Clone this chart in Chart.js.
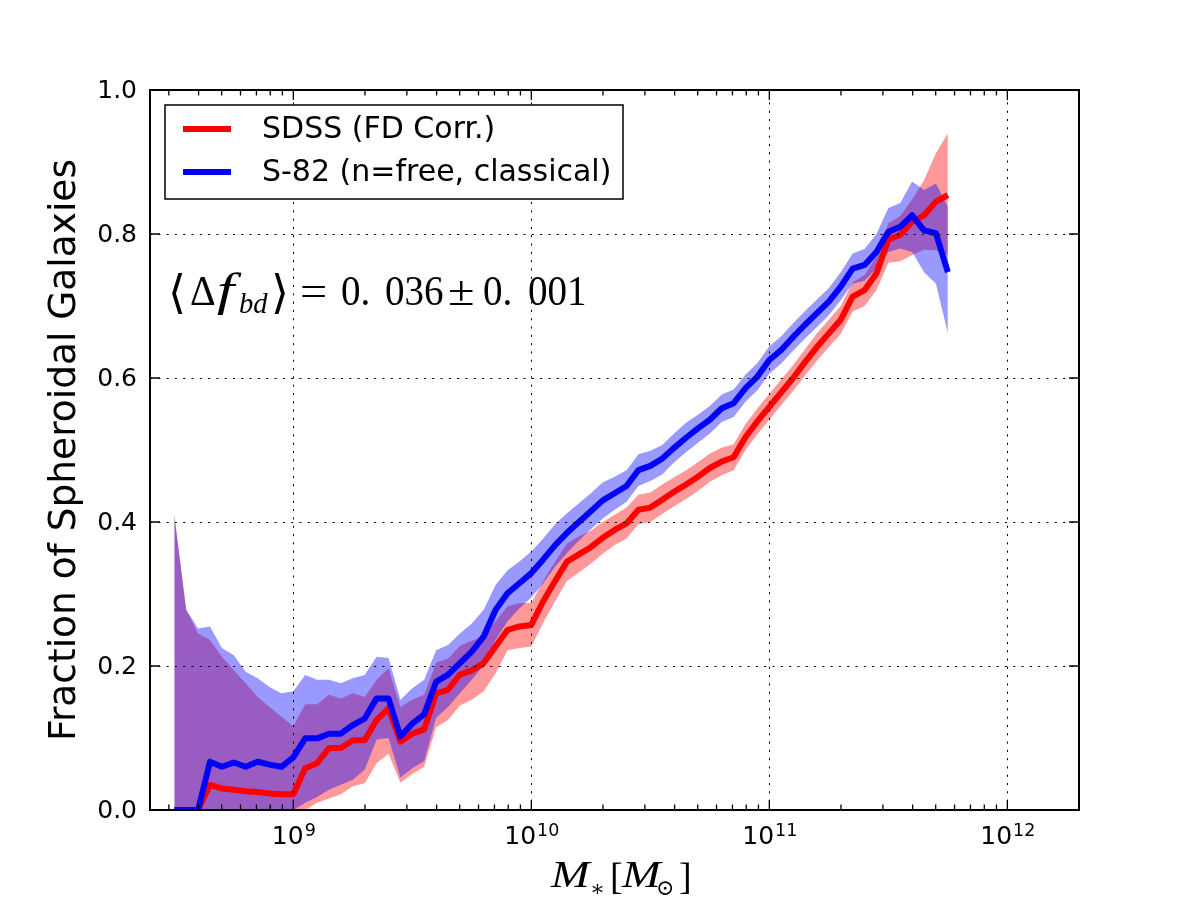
<!DOCTYPE html>
<html><head><meta charset="utf-8">
<script src="https://cdn.jsdelivr.net/npm/chart.js@4.4.1/dist/chart.umd.min.js"></script>
<style>html,body{margin:0;padding:0;background:#fff}canvas{display:block}</style>
</head><body>
<canvas id="c" width="1200" height="900"></canvas>
<script>
// log10 of stellar mass (bin centres)
const logMass = [8.50,8.55,8.60,8.65,8.70,8.75,8.80,8.85,8.90,8.95,
  9.00,9.05,9.10,9.15,9.20,9.25,9.30,9.35,9.40,9.45,
  9.50,9.55,9.60,9.65,9.70,9.75,9.80,9.85,9.90,9.95,
  10.00,10.05,10.10,10.15,10.20,10.25,10.30,10.35,10.40,10.45,
  10.50,10.55,10.60,10.65,10.70,10.75,10.80,10.85,10.90,10.95,
  11.00,11.05,11.10,11.15,11.20,11.25,11.30,11.35,11.40,11.45,
  11.50,11.55,11.60,11.65,11.70,11.75];

const sdssFrac = [0,0,0,0.035,0.030,0.028,0.026,0.025,0.023,0.022,
  0.022,0.058,0.065,0.086,0.086,0.097,0.097,0.125,0.141,0.095,
  0.106,0.112,0.162,0.167,0.188,0.194,0.204,0.227,0.250,0.255,
  0.257,0.290,0.318,0.345,0.355,0.365,0.378,0.389,0.398,0.417,
  0.420,0.431,0.442,0.452,0.463,0.475,0.484,0.490,0.518,0.540,
  0.560,0.580,0.600,0.622,0.643,0.662,0.681,0.713,0.722,0.745,
  0.792,0.799,0.817,0.826,0.845,0.854];
const sdssLow = [0,0,0,0,0,0,0,0,0,0,
  0,0,0.010,0.016,0.022,0.033,0.037,0.065,0.078,0.038,
  0.050,0.060,0.115,0.125,0.145,0.153,0.165,0.190,0.222,0.225,
  0.227,0.260,0.290,0.318,0.330,0.342,0.356,0.368,0.377,0.397,
  0.400,0.411,0.422,0.432,0.443,0.456,0.465,0.472,0.500,0.522,
  0.542,0.562,0.582,0.603,0.624,0.643,0.661,0.692,0.700,0.722,
  0.760,0.762,0.771,0.778,0.777,0.770];
const sdssHigh = [0.410,0.278,0.245,0.236,0.213,0.194,0.176,0.157,0.143,0.130,
  0.116,0.147,0.147,0.160,0.155,0.162,0.157,0.181,0.197,0.143,
  0.153,0.160,0.205,0.210,0.228,0.235,0.242,0.262,0.283,0.287,
  0.288,0.318,0.345,0.370,0.380,0.388,0.400,0.410,0.420,0.438,
  0.441,0.452,0.462,0.472,0.483,0.495,0.503,0.508,0.536,0.558,
  0.578,0.598,0.618,0.640,0.662,0.681,0.700,0.733,0.743,0.768,
  0.815,0.825,0.848,0.875,0.912,0.940];

const s82Frac = [0,0,0,0.067,0.060,0.066,0.060,0.067,0.063,0.060,
  0.073,0.0995,0.0995,0.106,0.106,0.118,0.127,0.155,0.155,0.102,
  0.120,0.133,0.178,0.188,0.204,0.220,0.241,0.278,0.301,0.315,
  0.329,0.348,0.368,0.385,0.400,0.415,0.430,0.440,0.450,0.472,
  0.478,0.488,0.503,0.517,0.530,0.542,0.558,0.565,0.586,0.602,
  0.625,0.639,0.657,0.674,0.690,0.706,0.727,0.752,0.757,0.775,
  0.803,0.810,0.826,0.805,0.801,0.747];
const s82Low = [0,0,0,0,0,0,0,0,0,0,
  0,0.010,0.018,0.028,0.035,0.042,0.056,0.098,0.100,0.045,
  0.058,0.068,0.128,0.143,0.162,0.181,0.201,0.236,0.262,0.280,
  0.295,0.315,0.338,0.357,0.374,0.390,0.405,0.417,0.428,0.450,
  0.457,0.466,0.483,0.497,0.510,0.523,0.539,0.546,0.567,0.583,
  0.606,0.620,0.638,0.655,0.671,0.687,0.708,0.731,0.735,0.752,
  0.775,0.780,0.775,0.747,0.731,0.662];
const s82High = [0.410,0.278,0.252,0.255,0.225,0.215,0.192,0.183,0.171,0.162,
  0.165,0.1875,0.181,0.181,0.176,0.183,0.1875,0.213,0.211,0.153,
  0.169,0.181,0.222,0.229,0.245,0.259,0.278,0.3125,0.333,0.345,
  0.359,0.377,0.397,0.412,0.426,0.440,0.455,0.463,0.472,0.494,
  0.499,0.507,0.523,0.538,0.549,0.561,0.577,0.584,0.605,0.621,
  0.644,0.658,0.676,0.693,0.709,0.725,0.747,0.773,0.779,0.800,
  0.836,0.843,0.873,0.861,0.870,0.838];

const seriesNames = ['SDSS (FD Corr.)', 'S-82 (n=free, classical)'];
const xTickExponents = [9, 10, 11, 12];
const yTickValues = [0.0, 0.2, 0.4, 0.6, 0.8, 1.0];
const xRange = [2.5e8, 2e12];
const yLabel = 'Fraction of Spheroidal Galaxies';

function pts(arr){ return logMass.map((lm, i) => ({x: Math.pow(10, lm), y: arr[i]})); }
function band(color){ return {borderColor:'rgba(0,0,0,0)', borderWidth:0, pointRadius:0, pointHoverRadius:0, backgroundColor:color, tension:0}; }

const SANS = '"DejaVu Sans", "Liberation Sans", sans-serif';
const SERIF = '"Liberation Serif", "DejaVu Serif", serif';

function txt(ctx, s, x, y, font, sx){
  ctx.save(); ctx.translate(x, y); ctx.scale(sx || 1, 1); ctx.font = font; ctx.fillText(s, 0, 0); ctx.restore();
}

const decor = {
  id: 'decor',
  afterDatasetsDraw(chart){
    const {ctx, chartArea: a, scales: {x, y}} = chart;
    ctx.save();
    // dotted grid
    ctx.strokeStyle = '#000'; ctx.lineWidth = 1; ctx.setLineDash([2.1, 6.2]);
    ctx.beginPath();
    xTickExponents.forEach(e => {
      const px = Math.round(x.getPixelForValue(Math.pow(10, e))) + 0.5;
      if (px > a.left + 1 && px < a.right - 1){ ctx.moveTo(px, a.bottom); ctx.lineTo(px, a.top); }
    });
    yTickValues.forEach(v => {
      const py = Math.round(y.getPixelForValue(v)) + 0.5;
      if (py > a.top + 1 && py < a.bottom - 1){ ctx.moveTo(a.left, py); ctx.lineTo(a.right, py); }
    });
    ctx.stroke();
    ctx.setLineDash([]);
    // ticks (inward, all four sides)
    ctx.lineWidth = 1.3;
    ctx.beginPath();
    const majorLen = 10, minorLen = 5.5;
    for (let e = 8; e <= 12; e++){
      for (let m = 1; m <= 9; m++){
        const v = m * Math.pow(10, e);
        if (v < xRange[0] || v > xRange[1]) continue;
        const px = x.getPixelForValue(v);
        const len = (m === 1) ? majorLen : minorLen;
        ctx.moveTo(px, a.bottom); ctx.lineTo(px, a.bottom - len);
        ctx.moveTo(px, a.top); ctx.lineTo(px, a.top + len);
      }
    }
    yTickValues.forEach(v => {
      const py = y.getPixelForValue(v);
      ctx.moveTo(a.left, py); ctx.lineTo(a.left + majorLen, py);
      ctx.moveTo(a.right, py); ctx.lineTo(a.right - majorLen, py);
    });
    ctx.stroke();
    // frame
    ctx.lineWidth = 2;
    ctx.strokeRect(a.left, a.top, a.right - a.left, a.bottom - a.top);

    ctx.fillStyle = '#000';
    // y tick labels
    ctx.font = '25px ' + SANS; ctx.textAlign = 'right'; ctx.textBaseline = 'middle';
    yTickValues.forEach(v => ctx.fillText(v.toFixed(1), a.left - 13, y.getPixelForValue(v) + 1));
    // x tick labels 10^n
    ctx.textAlign = 'left'; ctx.textBaseline = 'alphabetic';
    xTickExponents.forEach(e => {
      const px = x.getPixelForValue(Math.pow(10, e));
      ctx.font = '25px ' + SANS; const wb = ctx.measureText('10').width;
      ctx.font = '17.5px ' + SANS; const we = ctx.measureText(String(e)).width;
      const x0 = px - (wb + we) / 2;
      ctx.font = '25px ' + SANS; ctx.fillText('10', x0, a.bottom + 34);
      ctx.font = '17.5px ' + SANS; ctx.fillText(String(e), x0 + wb + 1, a.bottom + 26);
    });
    // y label
    ctx.save();
    ctx.translate(65, (a.top + a.bottom) / 2);
    ctx.rotate(-Math.PI / 2);
    ctx.font = '37.5px ' + SANS; ctx.textAlign = 'center'; ctx.textBaseline = 'middle';
    ctx.fillText(yLabel, 0, 0);
    ctx.restore();
    // x label  M_*[M_sun]
    const xb = a.bottom + 77;
    ctx.textAlign = 'left';
    txt(ctx, 'M', 551, xb, 'italic 38px ' + SERIF, 1.22);
    txt(ctx, '\u2217', 590, xb + 9, '22px ' + SERIF, 1);
    txt(ctx, '[', 610, xb + 2, '38px ' + SERIF, 1);
    txt(ctx, 'M', 622, xb, 'italic 38px ' + SERIF, 1.22);
    txt(ctx, '\u2299', 656, xb + 8, '22px "DejaVu Serif", serif', 1);
    txt(ctx, ']', 679, xb + 2, '38px ' + SERIF, 1);
    // annotation <Delta f_bd> = 0.036 +- 0.001
    const ab = 305, AF = '42px ' + SERIF, SX = 0.93;
    txt(ctx, '\u27E8', 168, ab + 3, '46px "DejaVu Serif", serif', 1);
    txt(ctx, '\u0394', 190, ab, AF, 0.95);
    txt(ctx, 'f', 217, ab, 'italic 46px ' + SERIF, 1.35);
    txt(ctx, 'bd', 239, ab + 8, 'italic 30px ' + SERIF, 0.95);
    txt(ctx, '\u27E9', 271, ab + 3, '46px "DejaVu Serif", serif', 1);
    txt(ctx, '=', 300, ab, AF, 1.15);
    txt(ctx, '0.', 341, ab, AF, SX);
    txt(ctx, '036', 385, ab, AF, SX);
    txt(ctx, '\u00B1', 448, ab, AF, 1.15);
    txt(ctx, '0.', 483, ab, AF, SX);
    txt(ctx, '001', 528, ab, AF, SX);
    // legend
    ctx.lineWidth = 1.5; ctx.strokeStyle = '#000';
    ctx.fillStyle = '#fff';
    ctx.fillRect(165, 105, 458, 94);
    ctx.strokeRect(165, 105, 458, 94);
    const legY = [129, 172], legC = ['#ff0000', '#0000ff'];
    seriesNames.forEach((n, i) => {
      ctx.strokeStyle = legC[i]; ctx.lineWidth = 6; ctx.lineCap = 'butt';
      ctx.beginPath(); ctx.moveTo(183, legY[i]); ctx.lineTo(231, legY[i]); ctx.stroke();
      ctx.fillStyle = '#000'; ctx.font = '30px ' + SANS; ctx.textBaseline = 'middle';
      ctx.fillText(n, 262, legY[i] + 1);
    });
    ctx.restore();
  }
};

new Chart(document.getElementById('c'), {
  type: 'line',
  data: { datasets: [
    Object.assign({label: 'SDSS upper', data: pts(sdssHigh), fill: 1, order: 4}, band('rgba(255,0,0,0.4)')),
    Object.assign({label: 'SDSS lower', data: pts(sdssLow), fill: false, order: 4}, band('rgba(255,0,0,0.4)')),
    Object.assign({label: 'S-82 upper', data: pts(s82High), fill: 3, order: 3}, band('rgba(0,0,255,0.4)')),
    Object.assign({label: 'S-82 lower', data: pts(s82Low), fill: false, order: 3}, band('rgba(0,0,255,0.4)')),
    {label: seriesNames[0], data: pts(sdssFrac), borderColor: '#ff0000', borderWidth: 6, pointRadius: 0, fill: false, order: 2, clip: 0, borderJoinStyle: 'round', tension: 0},
    {label: seriesNames[1], data: pts(s82Frac), borderColor: '#0000ff', borderWidth: 6, pointRadius: 0, fill: false, order: 1, clip: 0, borderJoinStyle: 'round', tension: 0}
  ]},
  options: {
    responsive: false, animation: false, devicePixelRatio: 1, events: [],
    layout: {padding: {left: 150, right: 121, top: 90, bottom: 90}},
    scales: {
      x: {type: 'logarithmic', min: xRange[0], max: xRange[1], display: false},
      y: {type: 'linear', min: 0, max: 1, display: false}
    },
    plugins: {legend: {display: false}, tooltip: {enabled: false}}
  },
  plugins: [decor]
});
</script>
</body></html>
